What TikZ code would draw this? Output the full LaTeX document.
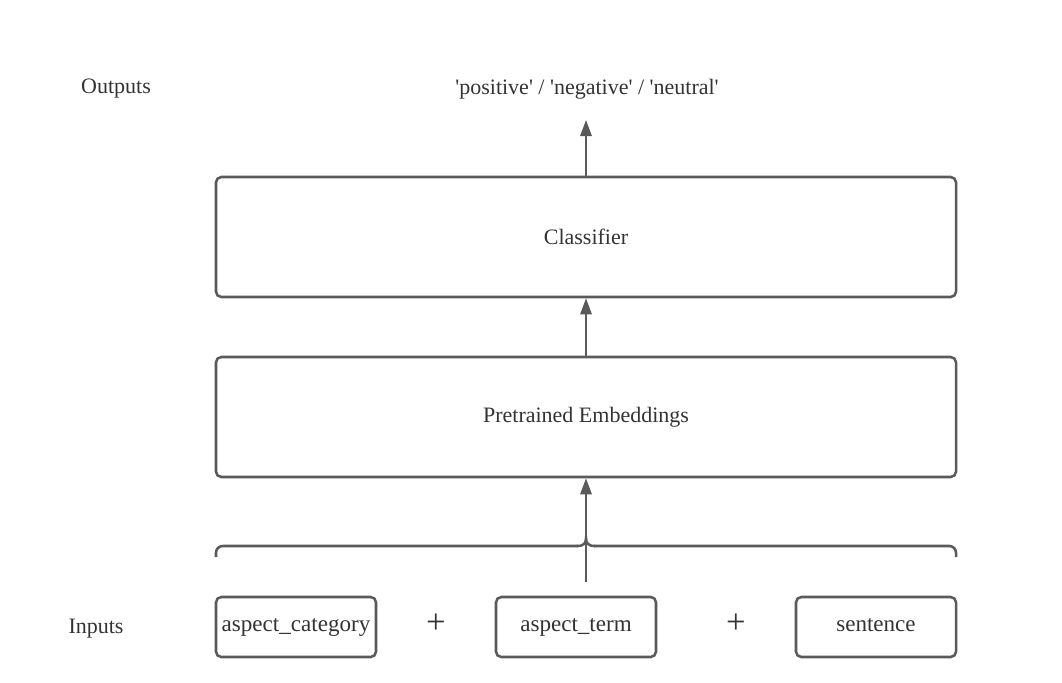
\documentclass[tikz,border=0pt]{standalone}
\usepackage{fontspec}
\setmainfont{Liberation Serif}
\usetikzlibrary{arrows.meta,positioning}
\pgfdeclarelayer{edgelayer}
\pgfdeclarelayer{nodelayer}
\pgfsetlayers{edgelayer,nodelayer,main}
\definecolor{edgegray}{HTML}{5A5A5A}
\definecolor{textgray}{HTML}{333333}
\tikzset{font=\fontsize{16.5}{19}\selectfont, text=textgray}
\tikzstyle{none}=[inner sep=0pt]
\tikzstyle{plus}=[inner sep=0pt,font=\fontsize{26}{30}\selectfont]
\tikzstyle{layer}=[draw=edgegray,line width=1.9pt,rounded corners=4pt,minimum width=555pt,minimum height=90pt,inner sep=0pt]
\tikzstyle{inbox}=[draw=edgegray,line width=1.9pt,rounded corners=4pt,minimum width=120pt,minimum height=45pt,inner sep=0pt,font=\fontsize{17.3}{20}\selectfont,text height=12pt,text depth=6pt]
\tikzstyle{flow}=[draw=edgegray,line width=1.5pt,-{Triangle[length=12pt,width=8.5pt]}]

\begin{document}
\begin{tikzpicture}[x=0.75pt,y=-0.75pt]
	\useasboundingbox (0,0) rectangle (1062,682);
	\begin{pgfonlayer}{nodelayer}
		\node [style=none] (outlbl) at (116, 89) {Outputs};
		\node [style=none] (inlbl) at (96, 629) {Inputs};
		\node [style=none] (result) at (587, 89) {\textquotesingle positive\textquotesingle{} / \textquotesingle negative\textquotesingle{} / \textquotesingle neutral\textquotesingle};
		\node [style=layer] (cls) at (586, 237) {Classifier};
		\node [style=layer] (emb) at (586, 417) {Pretrained Embeddings};
		\node [style=inbox] (cat) at (296, 627) {aspect\_category};
		\node [style=inbox] (term) at (576, 627) {aspect\_term};
		\node [style=inbox] (sent) at (876, 627) {sentence};
		\node [style=plus] (plus1) at (436, 624) {+};
		\node [style=plus] (plus2) at (736, 624) {+};
		\coordinate (tip) at (586, 120);
		\coordinate (root) at (586, 582);
	\end{pgfonlayer}
	\begin{pgfonlayer}{edgelayer}
		\draw[style=flow] (cls.north) to (tip);
		\draw[style=flow] (emb.north) to (cls.south);
		\draw[style=flow] (root) to (emb.south);
		% brace over the inputs
		\draw[draw=edgegray,line width=1.9pt,rounded corners=5pt]
			(216, 557) -- (216, 546) -- (578, 546);
		\draw[draw=edgegray,line width=1.9pt,rounded corners=5pt]
			(594, 546) -- (956, 546) -- (956, 557);
		\draw[draw=edgegray,line width=1.9pt]
			(577, 546) .. controls (584, 546) and (586, 543) .. (586, 538)
			.. controls (586, 543) and (588, 546) .. (595, 546);
	\end{pgfonlayer}
\end{tikzpicture}
\end{document}
